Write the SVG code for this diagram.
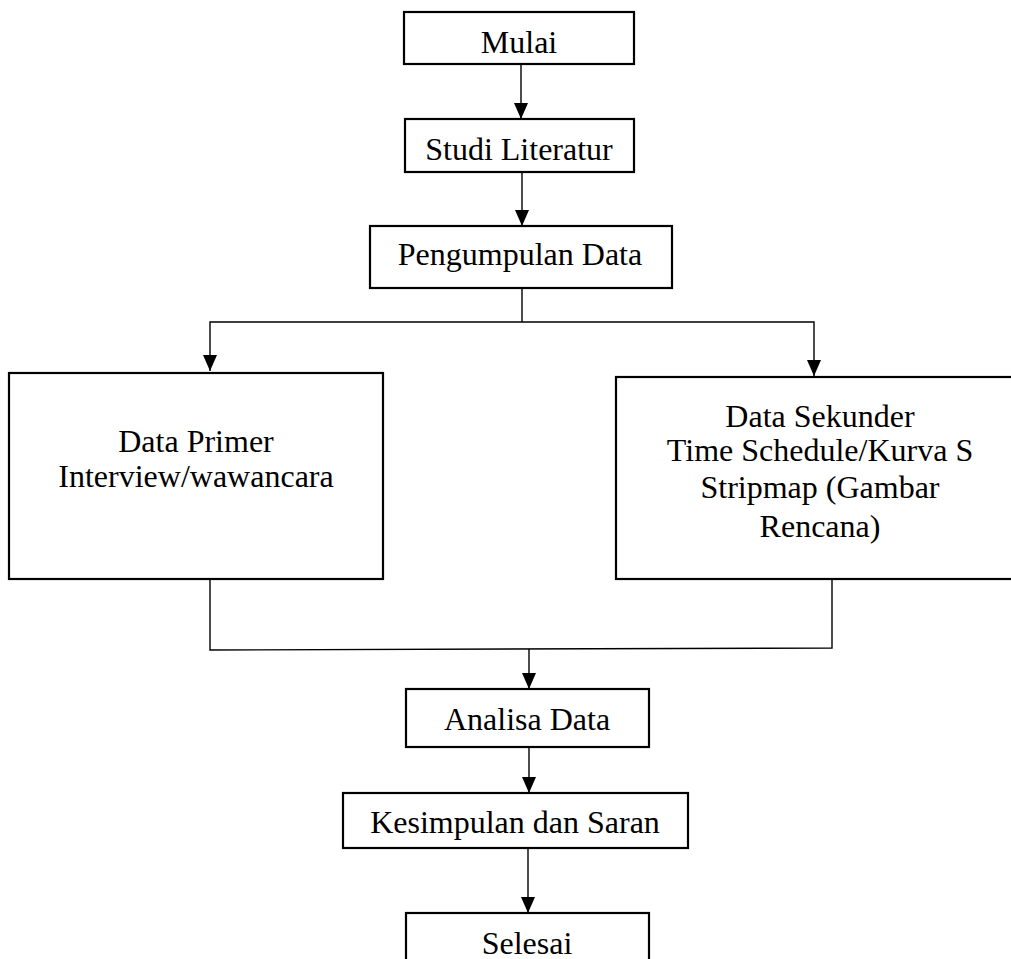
<svg xmlns="http://www.w3.org/2000/svg" width="1011" height="959" viewBox="0 0 1011 959">
<style>
.box{fill:#fff;stroke:#000;stroke-width:2.2}
.lbl{font-family:"Liberation Serif","Times New Roman",serif;font-size:32px;fill:#000;text-anchor:middle}
.con{fill:none;stroke:#000;stroke-width:1.4}
.arr{marker-end:url(#ah)}
</style>
<defs>
<marker id="ah" viewBox="0 0 16 14" refX="16" refY="7" markerWidth="16" markerHeight="14" markerUnits="userSpaceOnUse" orient="auto">
<path d="M0,0 L16,7 L0,14 z" fill="#000"/>
</marker>
</defs>
<rect width="1011" height="959" fill="#fff"/>
<g id="connectors">
<line class="con arr" x1="521" y1="64" x2="521" y2="119"/>
<line class="con arr" x1="522" y1="172" x2="522" y2="226"/>
<polyline class="con" points="522,288 522,322"/>
<polyline class="con arr" points="522,322 210,322 210,371"/>
<polyline class="con arr" points="522,322 814,322 814,376"/>
<polyline class="con" points="210,579 210,650 832,648 832,579"/>
<line class="con arr" x1="529" y1="649" x2="529" y2="689"/>
<line class="con arr" x1="529" y1="747" x2="529" y2="793"/>
<line class="con arr" x1="528" y1="848" x2="528" y2="913"/>
</g>
<g id="mulai">
<rect class="box" x="404" y="12" width="230" height="52"/>
<text class="lbl" x="519" y="53">Mulai</text>
</g>
<g id="studi-literatur">
<rect class="box" x="405" y="119" width="229" height="53"/>
<text class="lbl" x="519" y="160">Studi Literatur</text>
</g>
<g id="pengumpulan-data">
<rect class="box" x="370" y="226" width="302" height="62"/>
<text class="lbl" x="520" y="265">Pengumpulan Data</text>
</g>
<g id="data-primer">
<rect class="box" x="9" y="373" width="374" height="206"/>
<text class="lbl" x="196" y="452">Data Primer</text>
<text class="lbl" x="196" y="487">Interview/wawancara</text>
</g>
<g id="data-sekunder">
<rect class="box" x="616" y="377" width="400" height="202"/>
<text class="lbl" x="820" y="427">Data Sekunder</text>
<text class="lbl" x="820" y="461">Time Schedule/Kurva S</text>
<text class="lbl" x="820" y="498">Stripmap (Gambar</text>
<text class="lbl" x="820" y="537">Rencana)</text>
</g>
<g id="analisa-data">
<rect class="box" x="406" y="689" width="243" height="58"/>
<text class="lbl" x="527" y="730">Analisa Data</text>
</g>
<g id="kesimpulan-saran">
<rect class="box" x="343" y="793" width="345" height="55"/>
<text class="lbl" x="515" y="833">Kesimpulan dan Saran</text>
</g>
<g id="selesai">
<rect class="box" x="406" y="913" width="243" height="60"/>
<text class="lbl" x="527" y="954">Selesai</text>
</g>
</svg>
